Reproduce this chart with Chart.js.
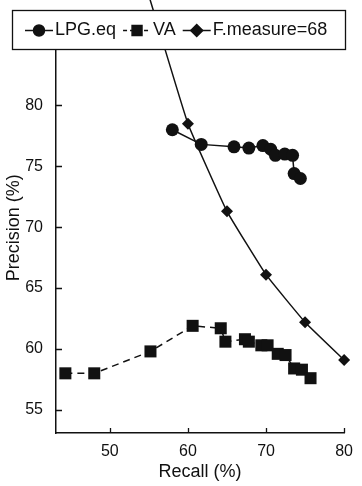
<!DOCTYPE html>
<html>
<head>
<meta charset="utf-8">
<script src="https://cdn.jsdelivr.net/npm/chart.js@4/dist/chart.umd.min.js"></script>
<style>
  html, body { margin: 0; padding: 0; background: #fff; }
  #wrap { width: 362px; height: 486px; }
</style>
</head>
<body>
<div id="wrap"><canvas id="prChart" width="362" height="486"></canvas></div>
<script>
// --- data ---
const lpgRecall    = [58.0, 61.7, 65.9, 67.8, 69.6, 70.6, 71.2, 72.4, 73.4, 73.6, 74.4];
const lpgPrecision = [78.0, 76.8, 76.6, 76.5, 76.7, 76.4, 75.9, 76.0, 75.9, 74.4, 74.0];

const vaRecall     = [44.3, 48.0, 55.2, 60.6, 64.2, 64.8, 67.3, 67.8, 69.4, 70.2, 71.5, 72.5, 73.6, 74.6, 75.7];
const vaPrecision  = [58.0, 58.0, 59.8, 61.9, 61.7, 60.6, 60.8, 60.6, 60.3, 60.3, 59.6, 59.5, 58.4, 58.3, 57.6];

const fRecall      = [55, 60, 65, 70, 75, 80];
const fPrecision   = [89.0, 78.5, 71.3, 66.1, 62.2, 59.1];

const seriesLabels = ['LPG.eq', 'VA', 'F.measure=68'];
const xTicks = [50, 60, 70, 80];
const yTicks = [55, 60, 65, 70, 75, 80];

const ink = '#111';
const FONT = "'Liberation Sans', Arial, Helvetica, sans-serif";

const toPoints = (xs, ys) => xs.map((x, i) => ({ x: x, y: ys[i] }));

// inward tick marks, old-plot style
const inwardTicks = {
    id: 'inwardTicks',
    afterDatasetsDraw(chart) {
        const { ctx, chartArea, scales } = chart;
        ctx.save();
        ctx.strokeStyle = ink;
        ctx.lineWidth = 1.3;
        ctx.beginPath();
        xTicks.forEach(v => {
            const px = Math.round(scales.x.getPixelForValue(v)) + 0.5;
            ctx.moveTo(px, chartArea.bottom);
            ctx.lineTo(px, chartArea.bottom - 5);
        });
        yTicks.forEach(v => {
            const py = Math.round(scales.y.getPixelForValue(v)) + 0.5;
            ctx.moveTo(chartArea.left, py);
            ctx.lineTo(chartArea.left + 6, py);
        });
        ctx.stroke();
        ctx.restore();
    }
};

// boxed legend sitting over the top of the plot
const boxLegend = {
    id: 'boxLegend',
    afterDraw(chart) {
        const ctx = chart.ctx;
        const box = { x: 12, y: 10, w: 333, h: 39 };
        const cy = box.y + box.h / 2 + 1;
        ctx.save();
        ctx.fillStyle = '#fff';
        ctx.fillRect(box.x, box.y, box.w, box.h);
        ctx.strokeStyle = ink;
        ctx.lineWidth = 1.3;
        ctx.strokeRect(box.x + 0.5, box.y + 0.5, box.w, box.h);

        ctx.font = '18px ' + FONT;
        ctx.textBaseline = 'middle';
        ctx.textAlign = 'left';
        let x = 25;
        chart.data.datasets.forEach(ds => {
            const seg = 28;
            ctx.strokeStyle = ink;
            ctx.lineWidth = 1.5;
            ctx.setLineDash(ds.borderDash && ds.borderDash.length ? [4, 3] : []);
            ctx.beginPath();
            ctx.moveTo(x, cy);
            ctx.lineTo(x + seg, cy);
            ctx.stroke();
            ctx.setLineDash([]);
            ctx.fillStyle = ink;
            Chart.helpers.drawPoint(ctx, {
                pointStyle: ds.pointStyle,
                radius: ds.legendRadius,
                borderWidth: 1,
                rotation: 0
            }, x + seg / 2, cy);
            ctx.fillStyle = ink;
            ctx.fillText(ds.label, x + seg + 2, cy);
            x += seg + 2 + ctx.measureText(ds.label).width + 7;
        });
        ctx.restore();
    }
};

new Chart(document.getElementById('prChart').getContext('2d'), {
    type: 'scatter',
    data: {
        datasets: [
            {
                label: seriesLabels[0],
                data: toPoints(lpgRecall, lpgPrecision),
                showLine: true,
                borderColor: ink, backgroundColor: ink,
                borderWidth: 1.5,
                pointStyle: 'circle', pointRadius: 6.5, legendRadius: 5.5,
                pointBorderWidth: 0
            },
            {
                label: seriesLabels[1],
                data: toPoints(vaRecall, vaPrecision),
                showLine: true,
                borderColor: ink, backgroundColor: ink,
                borderWidth: 1.5, borderDash: [7, 5],
                pointStyle: 'rect', pointRadius: 8.5, legendRadius: 7,
                pointBorderWidth: 0
            },
            {
                label: seriesLabels[2],
                data: toPoints(fRecall, fPrecision),
                showLine: true,
                tension: 0.1,
                borderColor: ink, backgroundColor: ink,
                borderWidth: 1.5,
                pointStyle: 'rectRot', pointRadius: 6, legendRadius: 6,
                pointBorderWidth: 0
            }
        ]
    },
    options: {
        responsive: false,
        devicePixelRatio: 1,
        animation: false,
        clip: false,
        layout: { padding: { top: 20, right: 15, left: 0, bottom: 0 } },
        plugins: { legend: { display: false }, tooltip: { enabled: false } },
        scales: {
            x: {
                type: 'linear',
                min: 43.1, max: 80,
                afterFit: s => { s.height = 53; },
                afterBuildTicks: s => { s.ticks = xTicks.map(v => ({ value: v })); },
                grid: { display: false, drawTicks: false },
                border: { display: true, color: ink, width: 1.5 },
                ticks: { color: ink, padding: 9, font: { family: FONT, size: 16 } },
                title: { display: true, text: 'Recall (%)', color: ink, padding: { top: 0, bottom: 3 }, font: { family: FONT, size: 18 } }
            },
            y: {
                type: 'linear',
                min: 53.1, max: 86.8,
                afterFit: s => { s.width = 56; },
                afterBuildTicks: s => { s.ticks = yTicks.map(v => ({ value: v })); },
                grid: { display: false, drawTicks: false },
                border: { display: true, color: ink, width: 1.5 },
                ticks: { color: ink, padding: 13, font: { family: FONT, size: 16 } },
                title: { display: true, text: 'Precision (%)', color: ink, padding: { top: 3, bottom: 0 }, font: { family: FONT, size: 18 } }
            }
        }
    },
    plugins: [inwardTicks, boxLegend]
});
</script>
</body>
</html>
